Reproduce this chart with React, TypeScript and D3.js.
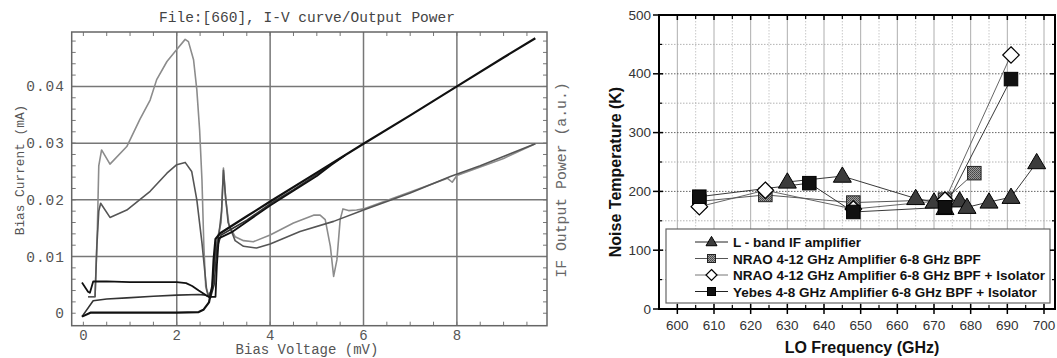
import * as d3 from "d3";

// ---- left panel: I-V curves and IF output power (mV, mA) ----
const ivUnpumped: [number, number][] = [
  [-0.03, -0.0006], [0.15, 0.0001], [0.5, 0.0001], [1, 0.0001], [1.5, 0.0001], [2, 0.0001],
  [2.47, 0.0002], [2.57, 0.0006], [2.69, 0.0019], [2.76, 0.0048], [2.79, 0.0095], [2.83, 0.0131],
  [2.93, 0.0141], [3.5, 0.0171], [4, 0.0197], [5, 0.0248], [6, 0.0299], [7, 0.0349], [8, 0.04],
  [9, 0.0451], [9.68, 0.0485],
];
const ivPumpedHigh: [number, number][] = [
  [-0.03, 0.0054], [0.1, 0.0038], [0.14, 0.0036], [0.21, 0.0056], [0.5, 0.0056], [1, 0.0055],
  [1.5, 0.0055], [2, 0.0055], [2.2, 0.0053], [2.33, 0.0048], [2.47, 0.004], [2.62, 0.0032],
  [2.69, 0.0029], [2.83, 0.0029], [2.86, 0.0085], [2.9, 0.0132], [3.2, 0.0144], [4, 0.019],
  [5, 0.0242], [5.3, 0.0261], [5.6, 0.0278],
];
const ivPumpedLow: [number, number][] = [
  [-0.03, -0.0006], [0.21, 0.0022], [0.5, 0.0025], [0.93, 0.0027], [1.5, 0.003], [2, 0.0032],
  [2.47, 0.0033], [2.62, 0.0032], [2.72, 0.0027], [2.8, 0.005], [2.86, 0.0115], [2.95, 0.0138],
  [3.5, 0.0164], [4, 0.0193], [4.5, 0.0218], [5, 0.0245], [5.3, 0.0262],
];
const ifHot: [number, number][] = [
  [0.1, 0.0029], [0.25, 0.0029], [0.3, 0.015], [0.33, 0.026], [0.39, 0.0288], [0.57, 0.0263],
  [0.93, 0.0294], [1.21, 0.0342], [1.43, 0.0376], [1.57, 0.0412], [1.79, 0.0444], [2, 0.0465],
  [2.18, 0.0483], [2.25, 0.0479], [2.36, 0.0447], [2.43, 0.0394], [2.49, 0.0323], [2.54, 0.0235],
  [2.58, 0.012], [2.62, 0.0047], [2.68, 0.0032], [2.75, 0.004], [2.82, 0.0105], [2.88, 0.0135],
  [2.95, 0.016], [3.0, 0.0256], [3.05, 0.02], [3.12, 0.0155], [3.25, 0.0135], [3.43, 0.0128],
  [3.64, 0.0126], [4, 0.0138], [4.5, 0.0159], [4.93, 0.0173], [5.07, 0.0173], [5.18, 0.0165],
  [5.29, 0.0118], [5.36, 0.0065], [5.43, 0.0094], [5.5, 0.0165], [5.56, 0.0184], [5.68, 0.0181],
  [5.85, 0.0182], [6, 0.0184], [7, 0.0214], [7.8, 0.0238], [7.9, 0.0231], [8, 0.0243],
  [9, 0.0273], [9.68, 0.0299],
];
const ifCold: [number, number][] = [
  [0.1, 0.0029], [0.25, 0.0029], [0.29, 0.012], [0.33, 0.018], [0.37, 0.0194], [0.57, 0.0169],
  [0.93, 0.0182], [1.43, 0.0215], [1.79, 0.0247], [2, 0.0262], [2.18, 0.0266], [2.32, 0.025],
  [2.43, 0.02], [2.54, 0.0124], [2.64, 0.0041], [2.68, 0.0029], [2.76, 0.0045], [2.83, 0.011],
  [2.9, 0.0137], [2.96, 0.018], [3.0, 0.0252], [3.04, 0.021], [3.1, 0.016], [3.25, 0.0128],
  [3.43, 0.0118], [3.71, 0.0115], [4, 0.0122], [4.64, 0.0144], [5.36, 0.0162], [6, 0.0182],
  [7, 0.0212], [7.86, 0.0241], [8.5, 0.026], [9.68, 0.0299],
];
const leftXTicks = [0, 2, 4, 6, 8];
const leftYTicks = [0, 0.01, 0.02, 0.03, 0.04];

// ---- right panel: noise temperature vs LO frequency ----
const triFreq = [630, 645, 665, 670, 673, 677, 679, 685, 691, 698];
const triTemp = [216, 226, 188, 182, 171, 184, 173, 182, 190, 249];
const hatchFreq = [606, 624, 648, 673, 681];
const hatchTemp = [183, 194, 181, 186, 231];
const diamondFreq = [606, 624, 648, 673, 691];
const diamondTemp = [174, 202, 170, 185, 432];
const yebesFreq = [606, 636, 648, 673, 691];
const yebesTemp = [191, 214, 165, 173, 391];
const rightXTicks = d3.range(600, 701, 10);
const rightYTicks = [0, 100, 200, 300, 400, 500];
const legendLabels = [
  "L - band IF amplifier",
  "NRAO 4-12 GHz Amplifier 6-8 GHz BPF",
  "NRAO 4-12 GHz Amplifier 6-8 GHz BPF + Isolator",
  "Yebes 4-8 GHz Amplifier 6-8 GHz BPF + Isolator",
];

const mono = "'Liberation Mono', 'DejaVu Sans Mono', monospace";
const sans = "'Liberation Sans', Arial, sans-serif";

const zip = (xs: number[], ys: number[]) => xs.map((x, i) => [x, ys[i]] as [number, number]);

function Marker({ kind, x, y, s }: { kind: string; x: number; y: number; s: number }) {
  if (kind === "tri") {
    const h = s * 0.85;
    return (
      <path
        d={`M${x},${y - h * 0.6}L${x + s / 2},${y + h * 0.4}L${x - s / 2},${y + h * 0.4}Z`}
        fill="#3c3c3c" stroke="#000" strokeWidth={1}
      />
    );
  }
  if (kind === "hatch")
    return <rect x={x - s / 2} y={y - s / 2} width={s} height={s} fill="url(#hatch)" stroke="#222" strokeWidth={1} />;
  if (kind === "diamond")
    return (
      <path d={`M${x},${y - s / 2}L${x + s / 2},${y}L${x},${y + s / 2}L${x - s / 2},${y}Z`} fill="#fff" stroke="#000" strokeWidth={1.2} />
    );
  return <rect x={x - s / 2} y={y - s / 2} width={s} height={s} fill="#111" stroke="#000" strokeWidth={1} />;
}

export default function App() {
  // left scales
  const lx = d3.scaleLinear().domain([-0.25, 9.93]).range([71.7, 547]);
  const ly = d3.scaleLinear().domain([-0.0022, 0.0496]).range([325.7, 32]);
  const lline = d3.line<[number, number]>().x((d) => lx(d[0])).y((d) => ly(d[1]));

  // right scales
  const rx = d3.scaleLinear().domain([595, 703]).range([659, 1055]);
  const ry = d3.scaleLinear().domain([0, 500]).range([309, 15]);
  const rline = d3.line<[number, number]>().x((d) => rx(d[0])).y((d) => ry(d[1]));

  const curves = [
    { d: ifHot, c: "#8c8c8c", w: 1.6 },
    { d: ifCold, c: "#555", w: 1.6 },
    { d: ivPumpedLow, c: "#333", w: 1.6 },
    { d: ivPumpedHigh, c: "#111", w: 1.8 },
    { d: ivUnpumped, c: "#111", w: 2.2 },
  ];

  const series = [
    { kind: "tri", pts: zip(triFreq, triTemp), size: 18, line: "#222" },
    { kind: "hatch", pts: zip(hatchFreq, hatchTemp), size: 13.5, line: "#444" },
    { kind: "diamond", pts: zip(diamondFreq, diamondTemp), size: 16.5, line: "#555" },
    { kind: "sq", pts: zip(yebesFreq, yebesTemp), size: 13.5, line: "#222" },
  ];
  const legendKinds = ["tri", "hatch", "diamond", "sq"];
  const legendLine = ["#222", "#555", "#777", "#222"];

  return (
    <svg width={1057} height={358} style={{ position: "absolute", left: 0, top: 0, background: "#fff" }}>
      <defs>
        <pattern id="hatch" width={2} height={2} patternUnits="userSpaceOnUse">
          <rect width={2} height={2} fill="#9a9a9a" />
          <rect width={1} height={1} fill="#444" />
          <rect x={1} y={1} width={1} height={1} fill="#555" />
        </pattern>
        <clipPath id="lclip">
          <rect x={71.7} y={32} width={475.3} height={293.7} />
        </clipPath>
      </defs>

      {/* ===== left panel ===== */}
      <text x={307} y={22} textAnchor="middle" fontFamily={mono} fontSize={14.5} fill="#444">
        File:[660], I-V curve/Output Power
      </text>
      {leftXTicks.filter((t) => t > 0).map((t) => (
        <line key={"gx" + t} x1={lx(t)} x2={lx(t)} y1={32} y2={325.7} stroke="#777" strokeWidth={1.5} />
      ))}
      {leftYTicks.filter((t) => t > 0).map((t) => (
        <line key={"gy" + t} x1={71.7} x2={547} y1={ly(t)} y2={ly(t)} stroke="#777" strokeWidth={1.5} />
      ))}
      {d3.range(0, 9.6, 0.5).map((t) => (
        <g key={"mx" + t} stroke="#777" strokeWidth={1}>
          <line x1={lx(t)} x2={lx(t)} y1={32} y2={36} />
          <line x1={lx(t)} x2={lx(t)} y1={325.7} y2={321.7} />
        </g>
      ))}
      {d3.range(0, 0.0495, 0.002).map((t) => (
        <g key={"my" + t} stroke="#777" strokeWidth={1}>
          <line x1={71.7} x2={75.7} y1={ly(t)} y2={ly(t)} />
          <line x1={547} x2={543} y1={ly(t)} y2={ly(t)} />
        </g>
      ))}
      <g clipPath="url(#lclip)">
        {curves.map((c, i) => (
          <path key={i} d={lline(c.d) ?? ""} fill="none" stroke={c.c} strokeWidth={c.w} strokeLinejoin="round" />
        ))}
      </g>
      <rect x={71.7} y={32} width={475.3} height={293.7} fill="none" stroke="#666" strokeWidth={1.5} />
      {leftYTicks.map((t) => (
        <text key={"ly" + t} x={65} y={ly(t) + 5} textAnchor="end" fontFamily={mono} fontSize={14.5} letterSpacing={1} fill="#555">
          {t === 0 ? "0" : t.toFixed(2)}
        </text>
      ))}
      {leftXTicks.map((t) => (
        <text key={"lx" + t} x={lx(t)} y={340} textAnchor="middle" fontFamily={mono} fontSize={14} fill="#555">
          {t}
        </text>
      ))}
      <text x={307} y={354} textAnchor="middle" fontFamily={mono} fontSize={14} fill="#555">
        Bias Voltage (mV)
      </text>
      <text transform="translate(24,170) rotate(-90)" textAnchor="middle" fontFamily={mono} fontSize={12.8} fill="#555">
        Bias Current (mA)
      </text>
      <text transform="translate(566,180) rotate(-90)" textAnchor="middle" fontFamily={mono} fontSize={14.8} fill="#666">
        IF Output Power (a.u.)
      </text>

      {/* ===== right panel ===== */}
      {d3.range(600, 701, 5).map((f) => (
        <line key={"rg" + f} x1={rx(f)} x2={rx(f)} y1={15} y2={309} stroke={f % 10 === 0 ? "#999" : "#bbb"} strokeWidth={0.8} strokeDasharray={f % 10 === 0 ? "none" : "1.5,1.5"} />
      ))}
      {d3.range(50, 500, 50).map((t) => (
        <line key={"rh" + t} x1={659} x2={1055} y1={ry(t)} y2={ry(t)} stroke={t % 100 === 0 ? "#555" : "#aaa"} strokeWidth={0.9} strokeDasharray="1.5,1.5" />
      ))}

      {series.map((s, i) => (
        <path key={"sl" + i} d={rline(s.pts) ?? ""} fill="none" stroke={s.line} strokeWidth={0.9} />
      ))}
      {series.map((s, i) => (
        <g key={"sm" + i}>
          {s.pts.map((p, j) => (
            <Marker key={j} kind={s.kind} x={rx(p[0])} y={ry(p[1])} s={s.size} />
          ))}
        </g>
      ))}

      <rect x={666} y={229} width={384} height={74} fill="#fff" stroke="#666" strokeWidth={1.2} />
      {legendLabels.map((lab, i) => {
        const y = 242 + i * 16.5;
        return (
          <g key={"lg" + i}>
            <line x1={695} x2={728} y1={y} y2={y} stroke={legendLine[i]} strokeWidth={1} />
            <Marker kind={legendKinds[i]} x={711.5} y={y} s={legendKinds[i] === "tri" || legendKinds[i] === "diamond" ? 11 : 8} />
            <text x={733} y={y + 5} fontFamily={sans} fontWeight="bold" fontSize={13.5} fill="#111">
              {lab}
            </text>
          </g>
        );
      })}

      {/* axes frame */}
      <rect x={659} y={15} width={396} height={294} fill="none" stroke="#000" strokeWidth={2} />
      {rightYTicks.map((t) => (
        <g key={"ryt" + t}>
          <line x1={653} x2={663} y1={ry(t)} y2={ry(t)} stroke="#000" strokeWidth={1.5} />
          <line x1={1055} x2={1050} y1={ry(t)} y2={ry(t)} stroke="#000" strokeWidth={1.5} />
          <text x={651} y={ry(t) + 4.5} textAnchor="end" fontFamily={sans} fontSize={13.5} fill="#333">
            {t}
          </text>
        </g>
      ))}
      {d3.range(50, 500, 100).map((t) => (
        <g key={"rym" + t} stroke="#000" strokeWidth={1.2}>
          <line x1={659} x2={662} y1={ry(t)} y2={ry(t)} />
          <line x1={1055} x2={1052} y1={ry(t)} y2={ry(t)} />
        </g>
      ))}
      {rightXTicks.map((f) => (
        <g key={"rxt" + f}>
          <line x1={rx(f)} x2={rx(f)} y1={304} y2={314} stroke="#000" strokeWidth={1.5} />
          <line x1={rx(f)} x2={rx(f)} y1={15} y2={20} stroke="#000" strokeWidth={1.5} />
          <text x={rx(f)} y={330} textAnchor="middle" fontFamily={sans} fontSize={13.5} fill="#333">
            {f}
          </text>
        </g>
      ))}
      {d3.range(605, 701, 10).map((f) => (
        <g key={"rxm" + f} stroke="#000" strokeWidth={1.2}>
          <line x1={rx(f)} x2={rx(f)} y1={309} y2={305} />
          <line x1={rx(f)} x2={rx(f)} y1={15} y2={19} />
        </g>
      ))}
      <text x={862} y={353} textAnchor="middle" fontFamily={sans} fontWeight="bold" fontSize={16} fill="#111">
        LO Frequency (GHz)
      </text>
      <text transform="translate(621,172) rotate(-90)" textAnchor="middle" fontFamily={sans} fontWeight="bold" fontSize={16} fill="#111">
        Noise Temperature (K)
      </text>
    </svg>
  );
}
